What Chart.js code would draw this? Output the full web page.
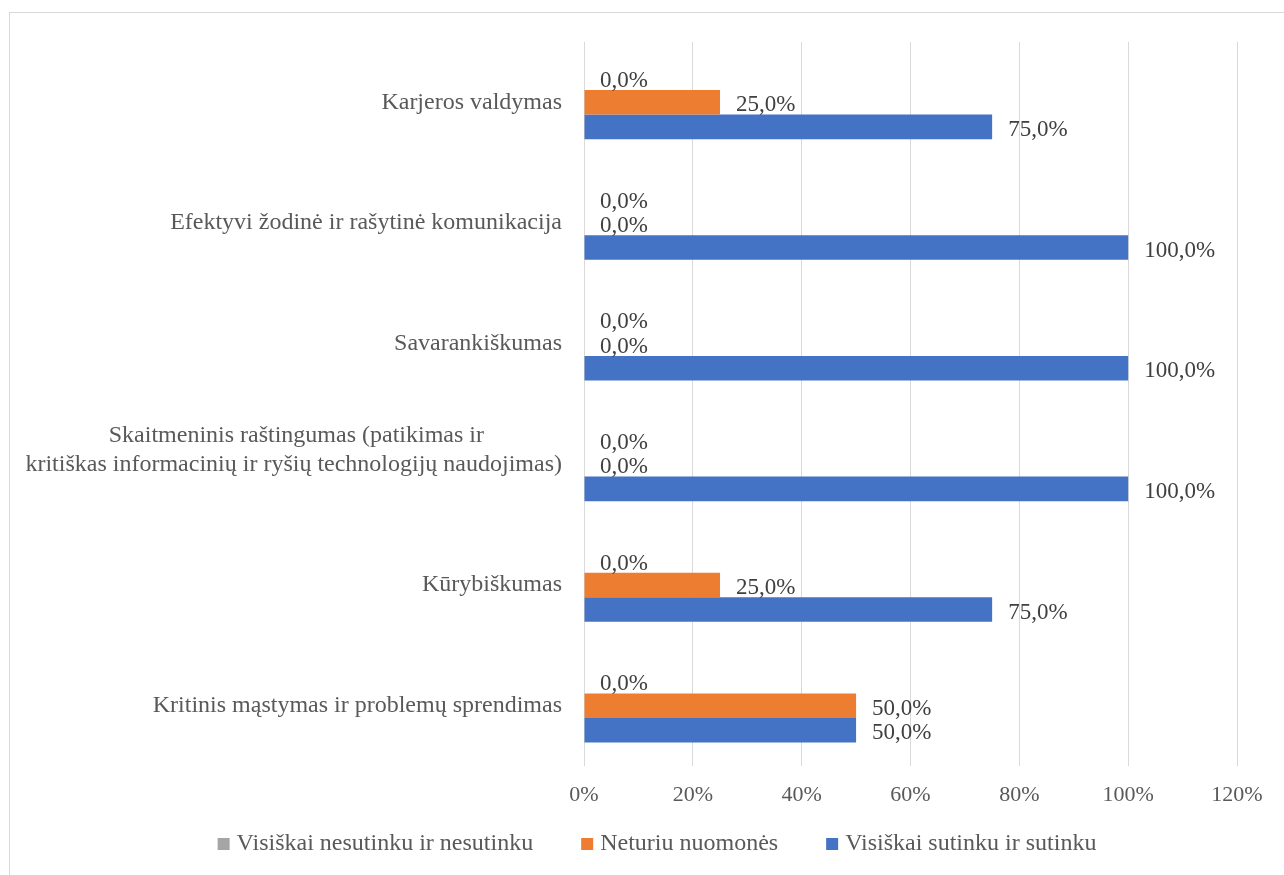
<!DOCTYPE html>
<html lang="lt">
<head>
<meta charset="utf-8">
<title>Kompetencijos</title>
<script src="https://cdn.jsdelivr.net/npm/chart.js@4/dist/chart.umd.min.js"></script>
<style>
  html, body { margin: 0; padding: 0; background: #fff; overflow: hidden; }
  body { width: 1284px; height: 875px; position: relative; }
  #remelis {
    position: absolute; left: 9px; top: 12px;
    width: 1300px; height: 900px;
    border: 1px solid #d9d9d9;
  }
  #grafikas { display: block; }
</style>
</head>
<body>
<div id="remelis">
  <canvas id="grafikas" width="1274" height="862"></canvas>
</div>
<script>
// Duomenys (procentais)
const kategorijos = [
    'Karjeros valdymas',
    'Efektyvi žodinė ir rašytinė komunikacija',
    'Savarankiškumas',
    ['Skaitmeninis raštingumas (patikimas ir' + '\u00a0'.repeat(13),
     'kritiškas informacinių ir ryšių technologijų naudojimas)', ''],
    'Kūrybiškumas',
    'Kritinis mąstymas ir problemų sprendimas'
];
const serijuPavadinimai = ['Visiškai nesutinku ir nesutinku', 'Neturiu nuomonės', 'Visiškai sutinku ir sutinku'];
const nesutinku = [0, 0, 0, 0, 0, 0];
const neturiuNuomones = [25, 0, 0, 0, 25, 50];
const sutinku = [75, 100, 100, 100, 75, 50];
const asiesZymos = [0, 20, 40, 60, 80, 100, 120];

const spalvos = ['#a5a5a5', '#ed7d31', '#4472c4'];
const sriftas = '"Liberation Serif", "Times New Roman", serif';
const tekstoSpalva = '#595959';

// Reikšmių etiketės prie stulpelių galų
const etiketes = {
    id: 'etiketes',
    afterDatasetsDraw(chart) {
        const ctx = chart.ctx;
        ctx.save();
        ctx.font = '23px ' + sriftas;
        ctx.fillStyle = '#404040';
        ctx.textAlign = 'left';
        ctx.textBaseline = 'middle';
        chart.data.datasets.forEach((ds, i) => {
            chart.getDatasetMeta(i).data.forEach((bar, j) => {
                const tekstas = ds.data[j].toFixed(1).replace('.', ',') + '%';
                ctx.fillText(tekstas, bar.x + 16, bar.y + 3);
            });
        });
        ctx.restore();
    }
};

// Legenda apačioje (kvadratėlis + tekstas, eilutė centruota)
const legenda = {
    id: 'legenda',
    afterDraw(chart) {
        const ctx = chart.ctx;
        ctx.save();
        ctx.font = '24px ' + sriftas;
        ctx.textAlign = 'left';
        ctx.textBaseline = 'middle';
        const tarpas = 48;
        const elementai = chart.data.datasets.map(ds => ({
            tekstas: ds.label,
            spalva: ds.backgroundColor,
            plotis: 19 + ctx.measureText(ds.label).width
        }));
        const viso = elementai.reduce((s, e) => s + e.plotis, 0) + tarpas * (elementai.length - 1);
        let x = 647 - viso / 2;
        const y = 831;
        elementai.forEach(e => {
            ctx.fillStyle = e.spalva;
            ctx.fillRect(x, y - 6, 12, 12);
            ctx.fillStyle = tekstoSpalva;
            ctx.fillText(e.tekstas, x + 19, y);
            x += e.plotis + tarpas;
        });
        ctx.restore();
    }
};

const ctx = document.getElementById('grafikas').getContext('2d');

new Chart(ctx, {
    type: 'bar',
    data: {
        labels: kategorijos,
        datasets: [
            { label: serijuPavadinimai[0], data: nesutinku, backgroundColor: spalvos[0] },
            { label: serijuPavadinimai[1], data: neturiuNuomones, backgroundColor: spalvos[1] },
            { label: serijuPavadinimai[2], data: sutinku, backgroundColor: spalvos[2] }
        ]
    },
    plugins: [etiketes, legenda],
    options: {
        indexAxis: 'y',
        responsive: false,
        animation: false,
        devicePixelRatio: 1,
        categoryPercentage: 0.61,
        barPercentage: 1,
        layout: { padding: { top: 29, left: 0, right: 47, bottom: 67 } },
        scales: {
            x: {
                min: 0,
                max: 120,
                afterBuildTicks(axis) {
                    axis.ticks = asiesZymos.map(v => ({ value: v }));
                },
                afterFit(axis) { axis.height = 42; },
                grid: { color: '#d9d9d9', lineWidth: 1, drawTicks: false },
                border: { display: false },
                ticks: {
                    padding: 16,
                    color: tekstoSpalva,
                    font: { family: sriftas, size: 22 },
                    callback: v => v + '%'
                }
            },
            y: {
                afterFit(axis) { axis.width = 574; },
                grid: { display: false, drawTicks: true, tickLength: 22 },
                border: { display: false },
                ticks: {
                    padding: 0,
                    color: tekstoSpalva,
                    font: { family: sriftas, size: 24, lineHeight: 1.2 }
                }
            }
        },
        plugins: {
            legend: { display: false },
            tooltip: { enabled: false }
        }
    }
});
</script>
</body>
</html>
